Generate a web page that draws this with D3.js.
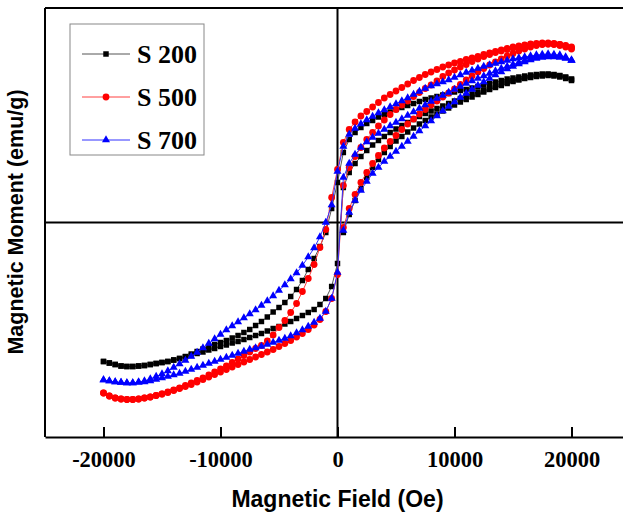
<!DOCTYPE html>
<html>
<head>
<meta charset="utf-8">
<script src="https://cdn.jsdelivr.net/npm/d3@7/dist/d3.min.js"></script>
<style>
  body { margin: 0; background: #fff; }
  svg { display: block; }
</style>
</head>
<body>
<svg id="chart" width="623" height="512"></svg>
<script>
// applied field (Oe), one entry per measured step
const fieldSteps = [-20000,-19500,-19000,-18500,-18000,-17500,-17000,-16500,-16000,-15500,
  -15000,-14500,-14000,-13500,-13000,-12500,-12000,-11500,-11000,-10500,
  -10000,-9500,-9000,-8500,-8000,-7500,-7000,-6500,-6000,-5500,
  -5000,-4500,-4000,-3500,-3000,-2500,-2000,-1500,-1000,-500,
  0,500,1000,1500,2000,2500,3000,3500,4000,4500,
  5000,5500,6000,6500,7000,7500,8000,8500,9000,9500,
  10000,10500,11000,11500,12000,12500,13000,13500,14000,14500,
  15000,15500,16000,16500,17000,17500,18000,18500,19000,19500,20000];
const initialSteps = fieldSteps.slice(41);
const xTicks = [-20000, -10000, 0, 10000, 20000];
const seriesNames = ["S 200", "S 500", "S 700"];

// magnetic moment (emu/g); "upper" = branch swept from +H to -H, "lower" = swept back up
const s200Upper = [-13.9,-14.05,-14.2,-14.35,-14.4,-14.4,-14.35,-14.3,-14.2,-14.1,
  -14.0,-13.9,-13.75,-13.6,-13.4,-13.15,-12.9,-12.65,-12.4,-12.2,
  -12.0,-11.8,-11.55,-11.3,-11.0,-10.7,-10.3,-9.9,-9.45,-8.95,
  -8.5,-8.0,-7.4,-6.7,-5.8,-4.7,-3.6,-2.4,-1.0,1.4,
  4.0,7.0,8.3,9.0,9.5,9.9,10.2,10.55,10.8,11.05,
  11.3,11.5,11.7,11.9,12.1,12.3,12.45,12.6,12.75,12.9,
  13.05,13.2,13.3,13.45,13.6,13.75,13.9,14.05,14.2,14.35,
  14.45,14.55,14.65,14.75,14.8,14.85,14.85,14.8,14.7,14.55,14.35];
const s200Lower = [-13.9,-14.05,-14.2,-14.35,-14.4,-14.4,-14.35,-14.3,-14.2,-14.1,
  -14.0,-13.9,-13.75,-13.6,-13.45,-13.3,-13.1,-12.95,-12.75,-12.6,
  -12.4,-12.25,-12.05,-11.9,-11.7,-11.5,-11.3,-11.1,-10.85,-10.6,
  -10.4,-10.15,-9.9,-9.6,-9.3,-9.0,-8.7,-8.2,-7.6,-6.4,
  -4.1,3.5,5.0,5.9,6.6,7.2,7.75,8.2,8.6,9.0,
  9.35,9.7,10.0,10.3,10.6,10.9,11.15,11.4,11.65,11.9,
  12.15,12.4,12.65,12.85,13.05,13.25,13.45,13.65,13.85,14.05,
  14.2,14.35,14.5,14.6,14.7,14.75,14.8,14.75,14.65,14.5,14.3];
const s200Initial = [-1.0,0.8,2.2,3.4,4.5,5.5,6.3,7.0,7.6,8.15,
  8.6,9.05,9.45,9.85,10.2,10.55,10.85,11.15,11.45,11.75,
  12.05,12.3,12.55,12.8,13.05,13.3,13.5,13.7,13.9,14.1,
  14.25,14.4,14.5,14.6,14.65,14.7,14.65,14.55,14.4,14.2];

const s500Upper = [-17.05,-17.35,-17.55,-17.65,-17.7,-17.7,-17.65,-17.55,-17.45,-17.3,
  -17.15,-16.95,-16.75,-16.55,-16.3,-16.05,-15.8,-15.55,-15.25,-14.95,
  -14.65,-14.35,-14.0,-13.65,-13.3,-12.95,-12.6,-12.3,-11.85,-11.25,
  -10.5,-9.8,-9.0,-8.1,-6.9,-5.6,-4.2,-2.5,-0.7,2.5,
  5.3,8.0,9.3,10.05,10.65,11.1,11.55,12.0,12.45,12.8,
  13.15,13.5,13.85,14.2,14.5,14.8,15.05,15.3,15.55,15.75,
  15.95,16.1,16.3,16.45,16.6,16.8,16.95,17.1,17.25,17.4,
  17.55,17.65,17.75,17.85,17.9,17.95,17.95,17.9,17.8,17.65,17.45];
const s500Lower = [-17.05,-17.35,-17.55,-17.65,-17.7,-17.7,-17.65,-17.55,-17.45,-17.3,
  -17.15,-17.0,-16.8,-16.6,-16.4,-16.2,-15.95,-15.7,-15.45,-15.2,
  -14.95,-14.7,-14.45,-14.2,-13.95,-13.7,-13.45,-13.2,-12.95,-12.7,
  -12.4,-12.1,-11.8,-11.45,-11.1,-10.7,-10.25,-9.7,-8.9,-7.6,
  -5.2,3.7,5.5,6.6,7.5,8.3,9.0,9.65,10.25,10.8,
  11.3,11.75,12.15,12.6,13.0,13.4,13.75,14.15,14.6,14.95,
  15.25,15.55,15.8,16.1,16.35,16.6,16.8,17.0,17.15,17.3,
  17.45,17.55,17.65,17.75,17.8,17.85,17.85,17.8,17.7,17.55,17.35];
const s500Initial = [-0.5,1.4,2.8,4.0,5.0,5.9,6.7,7.45,8.1,8.7,
  9.3,9.85,10.35,10.85,11.3,11.75,12.15,12.55,12.95,13.35,
  13.8,14.25,14.65,15.05,15.4,15.75,16.05,16.35,16.65,16.9,
  17.15,17.35,17.55,17.7,17.8,17.85,17.85,17.8,17.7,17.55];

const s700Upper = [-15.75,-15.85,-15.95,-16.0,-16.05,-16.05,-15.95,-15.85,-15.65,-15.4,
  -15.15,-14.85,-14.5,-14.15,-13.8,-13.4,-13.0,-12.55,-12.1,-11.65,
  -11.2,-10.75,-10.35,-9.95,-9.55,-9.15,-8.75,-8.3,-7.85,-7.35,
  -6.8,-6.25,-5.65,-5.05,-4.3,-3.45,-2.55,-1.45,0.0,1.75,
  5.1,7.6,8.8,9.4,9.85,10.25,10.6,10.95,11.25,11.55,
  11.85,12.15,12.45,12.8,13.1,13.4,13.65,13.85,14.05,14.25,
  14.5,14.75,15.0,15.2,15.4,15.6,15.75,15.9,16.05,16.2,
  16.35,16.45,16.55,16.65,16.75,16.8,16.85,16.8,16.75,16.55,16.25];
const s700Lower = [-15.75,-15.85,-15.95,-16.0,-16.05,-16.05,-16.0,-15.95,-15.85,-15.7,
  -15.55,-15.4,-15.25,-15.1,-14.9,-14.7,-14.5,-14.3,-14.1,-13.9,
  -13.7,-13.5,-13.3,-13.1,-12.9,-12.7,-12.55,-12.4,-12.2,-12.0,
  -11.8,-11.6,-11.35,-11.05,-10.75,-10.4,-10.0,-9.6,-8.9,-7.6,
  -5.0,4.5,5.9,6.8,7.5,8.05,8.5,8.9,9.3,9.65,
  10.0,10.35,10.7,11.05,11.4,11.75,12.1,12.4,12.7,13.0,
  13.3,13.6,13.9,14.15,14.4,14.65,14.9,15.15,15.4,15.6,
  15.8,16.0,16.2,16.35,16.5,16.6,16.65,16.65,16.6,16.45,16.2];
const s700Initial = [-0.8,1.0,2.2,3.2,4.1,4.9,5.5,6.1,6.6,7.1,
  7.6,8.1,8.6,9.15,9.65,10.15,10.65,11.15,11.6,12.05,
  12.5,12.9,13.3,13.7,14.05,14.4,14.75,15.05,15.35,15.6,
  15.85,16.05,16.25,16.4,16.5,16.55,16.55,16.5,16.4,16.2];

const series = [
  { name: seriesNames[0], color: "#000000", line: "#555555", symbol: d3.symbolSquare, size: 30,
    upper: s200Upper, lower: s200Lower, initial: s200Initial },
  { name: seriesNames[1], color: "#ff0000", line: "#ff4040", symbol: d3.symbolCircle, size: 36,
    upper: s500Upper, lower: s500Lower, initial: s500Initial },
  { name: seriesNames[2], color: "#0000ff", line: "#3030ff", symbol: d3.symbolTriangle, size: 28,
    upper: s700Upper, lower: s700Lower, initial: s700Initial }
];

const width = 623, height = 512;
const svg = d3.select("#chart");

const x = d3.scaleLinear().domain([-25000, 25000]).range([45, 630]);
const y = d3.scaleLinear().domain([-21.45, 21.45]).range([437, 8]);

const serif = "'Liberation Serif','Times New Roman',serif";
const sans = "'Liberation Sans',Arial,sans-serif";

// frame
svg.append("line").attr("x1", x.range()[0]).attr("x2", width).attr("y1", y.range()[1]).attr("y2", y.range()[1])
  .attr("stroke", "#000").attr("stroke-width", 2);
svg.append("line").attr("x1", x.range()[0]).attr("x2", x.range()[0]).attr("y1", y.range()[1]).attr("y2", y.range()[0])
  .attr("stroke", "#000").attr("stroke-width", 2);

// zero lines
svg.append("line").attr("x1", x(0)).attr("x2", x(0)).attr("y1", y.range()[1]).attr("y2", y.range()[0])
  .attr("stroke", "#000").attr("stroke-width", 2);
svg.append("line").attr("x1", x.range()[0]).attr("x2", width).attr("y1", y(0)).attr("y2", y(0))
  .attr("stroke", "#000").attr("stroke-width", 2);

// bottom axis, ticks pointing inward
const xAxis = d3.axisBottom(x).tickValues(xTicks).tickSizeInner(-10).tickSizeOuter(0)
  .tickFormat(d => String(d));
const gx = svg.append("g").attr("transform", `translate(0,${y.range()[0]})`).call(xAxis);
gx.select(".domain").attr("stroke-width", 2);
gx.selectAll(".tick line").attr("stroke-width", 2);
gx.selectAll("text").attr("dy", null).attr("y", 30)
  .style("font-family", serif).style("font-weight", "bold").style("font-size", "22.5px").attr("fill", "#000");

// axis titles
svg.append("text").attr("x", x(0)).attr("y", 507).attr("text-anchor", "middle")
  .style("font-family", sans).style("font-weight", "bold").style("font-size", "23px")
  .text("Magnetic Field (Oe)");
svg.append("text").attr("transform", "translate(23,222) rotate(-90)").attr("text-anchor", "middle")
  .style("font-family", sans).style("font-weight", "bold").style("font-size", "21.5px")
  .text("Magnetic Moment (emu/g)");

// curves
const line = d3.line().x(d => x(d[0])).y(d => y(d[1]));
series.forEach(s => {
  const down = fieldSteps.map((h, i) => [h, s.upper[i]]).reverse();
  const up = fieldSteps.map((h, i) => [h, s.lower[i]]);
  const init = initialSteps.map((h, i) => [h, s.initial[i]]);
  const g = svg.append("g");
  [init, down, up].forEach(seg => {
    g.append("path").datum(seg).attr("d", line)
      .attr("fill", "none").attr("stroke", s.line).attr("stroke-width", 1);
  });
  const pts = init.concat(down, up);
  g.selectAll("path.mark").data(pts).enter().append("path")
    .attr("class", "mark")
    .attr("d", d3.symbol().type(s.symbol).size(s.size))
    .attr("transform", d => `translate(${x(d[0])},${y(d[1])})`)
    .attr("fill", s.color);
});

// legend
const legend = svg.append("g");
legend.append("rect").attr("x", 70).attr("y", 24).attr("width", 134).attr("height", 131)
  .attr("fill", "#fff").attr("stroke", "#888").attr("stroke-width", 1);
series.forEach((s, i) => {
  const ly = 54 + i * 43;
  legend.append("line").attr("x1", 82).attr("x2", 130).attr("y1", ly).attr("y2", ly)
    .attr("stroke", s.line).attr("stroke-width", 1);
  legend.append("path").attr("d", d3.symbol().type(s.symbol).size(s.size))
    .attr("transform", `translate(106,${ly})`).attr("fill", s.color);
  legend.append("text").attr("x", 137).attr("y", ly + 9)
    .style("font-family", serif).style("font-weight", "bold").style("font-size", "26px")
    .text(s.name);
});
</script>
</body>
</html>
